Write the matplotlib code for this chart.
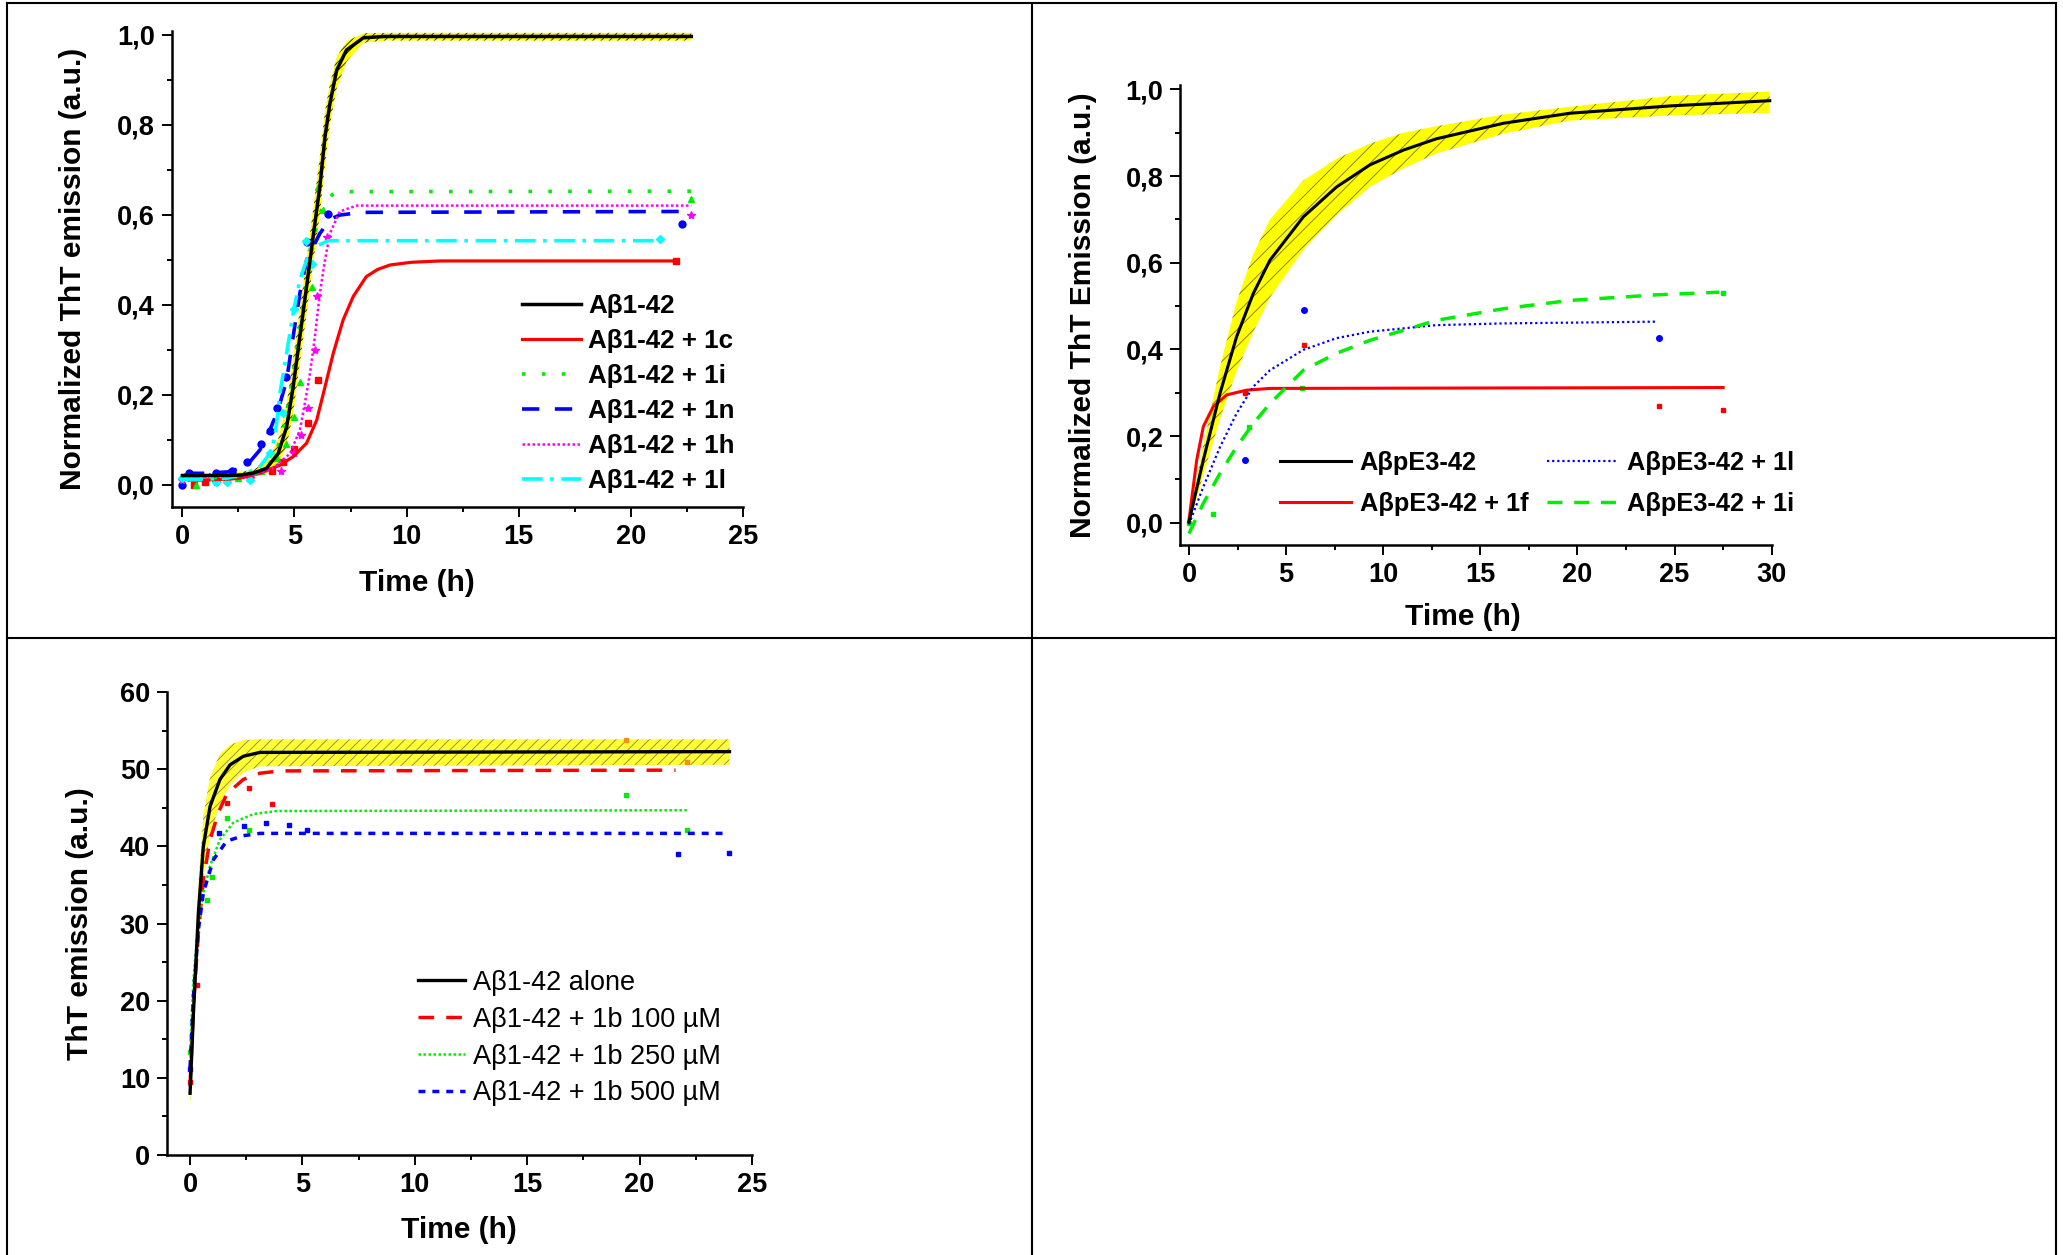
import matplotlib
matplotlib.use("Agg")
import matplotlib.pyplot as plt
from matplotlib.lines import Line2D
from matplotlib.ticker import MultipleLocator, FuncFormatter

plt.rcParams['font.family'] = ['Liberation Sans', 'DejaVu Sans']
plt.rcParams['hatch.linewidth'] = 0.65

# ---------- panel A: Abeta1-42 + 1c/1i/1n/1h/1l ----------
a_x_ctrl = [0, 1, 2, 2.6, 3.2, 3.75, 4.27, 4.65, 4.94, 5.24, 5.54, 5.83, 6.13, 6.36, 6.58, 6.88, 7.32, 8.07, 9, 12, 22.7]
a_y_ctrl = [0.02, 0.02, 0.02, 0.021, 0.026, 0.036, 0.069, 0.128, 0.217, 0.329, 0.44, 0.551, 0.662, 0.773, 0.847, 0.921, 0.966, 0.993, 0.996, 0.996, 0.996]
a_up_ctrl = [0.025, 0.025, 0.026, 0.028, 0.034, 0.05, 0.10, 0.18, 0.28, 0.39, 0.50, 0.61, 0.73, 0.83, 0.89, 0.95, 0.985, 1.003, 1.004, 1.004, 1.004]
a_lo_ctrl = [0.015, 0.015, 0.015, 0.016, 0.019, 0.025, 0.045, 0.085, 0.16, 0.27, 0.38, 0.49, 0.60, 0.71, 0.80, 0.88, 0.94, 0.982, 0.987, 0.987, 0.987]

a_x_1c = [0.3, 1, 2, 2.56, 3.46, 4.35, 4.94, 5.54, 5.99, 6.36, 6.73, 7.17, 7.62, 8.2, 8.7, 9.26, 10.2, 11.5, 22]
a_y_1c = [0.01, 0.01, 0.012, 0.014, 0.025, 0.043, 0.062, 0.092, 0.143, 0.217, 0.292, 0.366, 0.418, 0.462, 0.478, 0.488, 0.494, 0.497, 0.497]
a_x_1i = [0.5, 2, 3, 3.6, 4.1, 4.5, 4.8, 5.1, 5.4, 5.7, 6.0, 6.3, 6.7, 7.3, 22.7]
a_y_1i = [0.015, 0.016, 0.02, 0.03, 0.06, 0.12, 0.2, 0.3, 0.4, 0.5, 0.58, 0.625, 0.645, 0.651, 0.652]
a_x_1n = [0.2, 1, 2, 2.5, 3.0, 3.46, 3.9, 4.27, 4.65, 4.94, 5.24, 5.54, 6.13, 6.6, 7.02, 8, 22.5]
a_y_1n = [0.025, 0.025, 0.028, 0.035, 0.05, 0.077, 0.121, 0.166, 0.232, 0.329, 0.425, 0.499, 0.558, 0.59, 0.599, 0.605, 0.607]
a_x_1h = [0, 1, 2, 3.15, 4.05, 4.8, 5.24, 5.46, 5.69, 5.91, 6.13, 6.36, 6.58, 7.02, 7.77, 22.7]
a_y_1h = [0.018, 0.018, 0.018, 0.021, 0.036, 0.069, 0.121, 0.18, 0.247, 0.329, 0.425, 0.499, 0.558, 0.607, 0.62, 0.62]
a_x_1l = [0, 1, 2, 2.86, 3.46, 3.9, 4.13, 4.35, 4.65, 4.94, 5.24, 5.54, 5.69, 6.5, 21.2]
a_y_1l = [0.012, 0.012, 0.014, 0.025, 0.04, 0.069, 0.106, 0.203, 0.292, 0.381, 0.455, 0.499, 0.523, 0.542, 0.542]

a_px_1c = [0.5, 1.0, 2.0, 3.0, 4.0, 4.5, 5.0, 5.6, 6.05, 22.0]
a_py_1c = [0.0, 0.005, 0.01, 0.015, 0.03, 0.05, 0.08, 0.136, 0.232, 0.497]
a_px_1i = [0.6, 1.5, 2.5, 3.5, 4.2, 4.6, 5.0, 5.24, 5.76, 6.05, 6.25, 22.7]
a_py_1i = [0.0, 0.01, 0.015, 0.03, 0.06, 0.09, 0.15, 0.228, 0.44, 0.662, 0.61, 0.635]
a_px_1n = [0.0, 0.3, 1.5, 2.2, 2.9, 3.5, 3.9, 4.2, 4.6, 5.55, 6.5, 22.3]
a_py_1n = [0.0, 0.025, 0.025, 0.03, 0.05, 0.09, 0.12, 0.17, 0.24, 0.54, 0.601, 0.58]
a_px_1h = [0.0, 1.5, 3.0, 4.4, 5.0, 5.3, 5.6, 5.9, 6.0, 6.43, 22.7]
a_py_1h = [0.01, 0.005, 0.015, 0.03, 0.07, 0.11, 0.17, 0.3, 0.42, 0.551, 0.6]
a_px_1l = [0.0, 1.5, 2.0, 3.0, 3.9, 4.5, 5.0, 5.5, 5.8, 21.3]
a_py_1l = [0.015, 0.005, 0.005, 0.01, 0.07, 0.16, 0.39, 0.542, 0.49, 0.545]

# ---------- panel B: AbetapE3-42 ----------
b_x_ctrl = [0, 0.74, 1.6, 2.45, 3.31, 4.17, 5.89, 7.6, 9.32, 11.04, 12.73, 16.2, 19.6, 24.8, 29.9]
b_y_ctrl = [0.002, 0.145, 0.299, 0.429, 0.529, 0.606, 0.706, 0.775, 0.826, 0.860, 0.886, 0.922, 0.945, 0.962, 0.974]
b_up_ctrl = [0.01, 0.18, 0.36, 0.51, 0.62, 0.70, 0.79, 0.84, 0.875, 0.90, 0.915, 0.942, 0.960, 0.985, 0.995]
b_lo_ctrl = [-0.005, 0.11, 0.24, 0.35, 0.44, 0.52, 0.63, 0.71, 0.775, 0.818, 0.852, 0.898, 0.928, 0.94, 0.946]
b_x_1f = [0, 0.4, 0.74, 1.25, 1.94, 2.97, 4.17, 27.5]
b_y_1f = [0.006, 0.145, 0.222, 0.268, 0.295, 0.306, 0.310, 0.312]
b_x_1l = [0, 0.74, 1.6, 2.45, 3.31, 4.17, 5.89, 7.6, 9.32, 12.73, 16.2, 24.0]
b_y_1l = [-0.004, 0.083, 0.175, 0.252, 0.314, 0.352, 0.399, 0.426, 0.441, 0.456, 0.460, 0.464]
b_x_1i = [0, 0.74, 1.6, 2.45, 3.31, 4.17, 5.89, 7.6, 9.32, 11.04, 12.73, 16.2, 19.6, 24.1, 27.3]
b_y_1i = [-0.025, 0.045, 0.114, 0.175, 0.229, 0.275, 0.352, 0.391, 0.421, 0.444, 0.467, 0.494, 0.513, 0.526, 0.532]
b_px_1f = [2.9, 5.92, 24.2, 27.5]
b_py_1f = [0.30, 0.41, 0.27, 0.26]
b_px_1l = [2.9, 5.92, 24.2]
b_py_1l = [0.145, 0.491, 0.427]
b_px_1i = [0.0, 1.25, 3.1, 5.8, 27.5]
b_py_1i = [0.0, 0.019, 0.222, 0.312, 0.53]

# ---------- panel C: Abeta1-42 + 1b ----------
c_x_ctrl = [0, 0.15, 0.37, 0.59, 0.89, 1.33, 1.78, 2.37, 3.11, 24]
c_y_ctrl = [8.0, 18.4, 31.4, 40.0, 45.2, 48.7, 50.6, 51.7, 52.2, 52.3]
c_up_ctrl = [8.5, 21, 35, 44, 49, 52, 53.2, 53.8, 53.9, 53.9]
c_lo_ctrl = [6.0, 16, 28, 36, 41.5, 45.5, 48.0, 49.6, 50.4, 50.6]
c_x_100 = [0, 0.15, 0.37, 0.59, 0.89, 1.26, 1.63, 2.37, 3.11, 4.0, 21.6]
c_y_100 = [9.0, 19.3, 28.8, 35.7, 40.9, 44.4, 46.8, 48.7, 49.5, 49.8, 49.9]
c_x_250 = [0, 0.15, 0.37, 0.59, 0.89, 1.33, 1.93, 2.81, 3.85, 22.1]
c_y_250 = [13.4, 22.7, 30.1, 34.0, 37.5, 40.9, 43.1, 44.2, 44.6, 44.7]
c_x_500 = [0, 0.15, 0.37, 0.59, 1.04, 1.63, 2.37, 3.11, 24.0]
c_y_500 = [11.4, 20.6, 29.2, 34.0, 38.3, 40.7, 41.4, 41.7, 41.7]
c_px_100 = [0.0, 0.3, 1.63, 2.64, 3.63]
c_py_100 = [9.5, 22.0, 45.7, 47.6, 45.5]
c_px_250 = [0.0, 0.74, 0.96, 1.63, 2.64, 19.4, 22.1]
c_py_250 = [13.3, 33.0, 36.0, 43.7, 42.1, 46.7, 42.1]
c_px_500 = [0.0, 1.3, 2.4, 3.38, 4.4, 5.2, 21.7, 24.0]
c_py_500 = [11.2, 41.7, 42.6, 43.1, 42.8, 42.2, 39.0, 39.1]
c_px_mix = [19.4, 22.1]
c_py_mix = [53.8, 50.9]

fig = plt.figure(figsize=(20.63, 12.55), dpi=100)

comma = FuncFormatter(lambda v, p: f"{v:.1f}".replace('.', ','))


def style_axes(ax, xmaj, xmin, ymaj, ymin):
    for s in ['top', 'right']:
        ax.spines[s].set_visible(False)
    for s in ['left', 'bottom']:
        ax.spines[s].set_linewidth(1.8)
    ax.xaxis.set_major_locator(MultipleLocator(xmaj))
    ax.xaxis.set_minor_locator(MultipleLocator(xmin))
    ax.yaxis.set_major_locator(MultipleLocator(ymaj))
    ax.yaxis.set_minor_locator(MultipleLocator(ymin))
    ax.tick_params(which='major', direction='out', length=7, width=1.4, labelsize=19.5, pad=5)
    ax.tick_params(which='minor', direction='out', length=3.6, width=1.4)
    for lab in ax.get_xticklabels() + ax.get_yticklabels():
        lab.set_fontweight('bold')


# --- top left ---
ax1 = fig.add_axes([0.0832, 0.596, 0.2769, 0.3796])
ax1.fill_between(a_x_ctrl, a_lo_ctrl, a_up_ctrl, facecolor='#ffff00', edgecolor='#222200',
                 hatch='////', linewidth=0, zorder=1)
ax1.plot(a_x_ctrl, a_y_ctrl, color='black', lw=2.5, label='Aβ1-42', zorder=5)
ax1.plot(a_x_1c, a_y_1c, color='#ff0000', lw=2.3, label='Aβ1-42 + 1c', zorder=4)
ax1.plot(a_x_1i, a_y_1i, color='#00ee00', lw=2.6, ls=(0, (1, 4.5)), label='Aβ1-42 + 1i', zorder=4)
ax1.plot(a_x_1n, a_y_1n, color='#0000ff', lw=2.6, ls=(0, (4.8, 4.3)), label='Aβ1-42 + 1n', zorder=4)
ax1.plot(a_x_1h, a_y_1h, color='#ff00ff', lw=1.8, ls=(0, (1, 1)), label='Aβ1-42 + 1h', zorder=4)
ax1.plot(a_x_1l, a_y_1l, color='#00ffff', lw=2.6, ls=(0, (5.7, 2.1, 1, 2.1)), label='Aβ1-42 + 1l', zorder=4)
ax1.plot(a_px_1c, a_py_1c, 's', color='#ff0000', ms=4.5, zorder=3)
ax1.plot(a_px_1i, a_py_1i, '^', color='#00ee00', ms=5, zorder=3)
ax1.plot(a_px_1n, a_py_1n, 'o', color='#0000ff', ms=5, zorder=3)
ax1.plot(a_px_1h, a_py_1h, '*', color='#ff00ff', ms=6, zorder=3)
ax1.plot(a_px_1l, a_py_1l, 'D', color='#00ffff', ms=4.5, zorder=3)
ax1.set_xlim(-0.48, 25)
ax1.set_ylim(-0.05, 1.009)
style_axes(ax1, 5, 2.5, 0.2, 0.1)
ax1.yaxis.set_major_formatter(comma)
for lab in ax1.get_yticklabels():
    lab.set_fontweight('bold')
ax1.set_xlabel('Time (h)', fontsize=21.5, fontweight='bold')
ax1.set_ylabel('Normalized ThT emission (a.u.)', fontsize=21.5, fontweight='bold')
ax1.xaxis.set_label_coords(0.43, -0.13)
ax1.yaxis.set_label_coords(-0.148, 0.5)
ax1.legend(loc='upper left', bbox_to_anchor=(0.6126, 0.447), frameon=False, borderpad=0,
           borderaxespad=0, handlelength=2.3, handletextpad=0.26, labelspacing=0.42,
           prop={'size': 18.7, 'weight': 'bold'})

# --- top right ---
ax2 = fig.add_axes([0.5720, 0.5657, 0.2868, 0.3665])
ax2.fill_between(b_x_ctrl, b_lo_ctrl, b_up_ctrl, facecolor='#ffff00', edgecolor='#7a7a30',
                 hatch='//', linewidth=0, zorder=1)
l_ctrl, = ax2.plot(b_x_ctrl, b_y_ctrl, color='black', lw=2.2, label='AβpE3-42', zorder=5)
l_1f, = ax2.plot(b_x_1f, b_y_1f, color='#ff0000', lw=2.2, label='AβpE3-42 + 1f', zorder=4)
l_1l, = ax2.plot(b_x_1l, b_y_1l, color='#0000ff', lw=1.6, ls=(0, (1, 1.3)), label='AβpE3-42 + 1l', zorder=4)
l_1i, = ax2.plot(b_x_1i, b_y_1i, color='#00ee00', lw=2.5, ls=(0, (4.3, 3.4)), label='AβpE3-42 + 1i', zorder=4)
ax2.plot(b_px_1f, b_py_1f, 's', color='#ff0000', ms=3.5, zorder=3)
ax2.plot(b_px_1l, b_py_1l, 'o', color='#0000ff', ms=4, zorder=3)
ax2.plot(b_px_1i, b_py_1i, 's', color='#00ee00', ms=3.5, zorder=3)
ax2.set_xlim(-0.46, 30)
ax2.set_ylim(-0.0515, 1.01)
style_axes(ax2, 5, 2.5, 0.2, 0.1)
ax2.yaxis.set_major_formatter(comma)
for lab in ax2.get_yticklabels():
    lab.set_fontweight('bold')
ax2.set_xlabel('Time (h)', fontsize=21.5, fontweight='bold')
ax2.set_ylabel('Normalized ThT Emission (a.u.)', fontsize=21.5, fontweight='bold')
ax2.xaxis.set_label_coords(0.478, -0.125)
ax2.yaxis.set_label_coords(-0.14, 0.5)
ax2.legend(handles=[l_ctrl, l_1f, l_1l, l_1i], ncol=2, loc='upper left',
           bbox_to_anchor=(0.169, 0.205), frameon=False, borderpad=0, borderaxespad=0,
           handlelength=2.8, handletextpad=0.33, labelspacing=0.68, columnspacing=0.75,
           prop={'size': 18.3, 'weight': 'bold'})

# --- bottom left ---
ax3 = fig.add_axes([0.0808, 0.0797, 0.2837, 0.3687])
ax3.fill_between(c_x_ctrl, c_lo_ctrl, c_up_ctrl, facecolor='#ffff33', edgecolor='#8c8c40',
                 hatch='///', linewidth=0, zorder=1)
ax3.plot(c_x_ctrl, c_y_ctrl, color='black', lw=2.4, label='Aβ1-42 alone', zorder=5)
ax3.plot(c_x_100, c_y_100, color='#ff0000', lw=2.5, ls=(0, (4.5, 3.5)), label='Aβ1-42 + 1b 100 µM', zorder=4)
ax3.plot(c_x_250, c_y_250, color='#00ee00', lw=1.8, ls=(0, (1, 1)), label='Aβ1-42 + 1b 250 µM', zorder=4)
ax3.plot(c_x_500, c_y_500, color='#0000ff', lw=2.5, ls=(0, (2, 2)), label='Aβ1-42 + 1b 500 µM', zorder=4)
ax3.plot(c_px_100, c_py_100, 's', color='#ff0000', ms=3.5, zorder=3)
ax3.plot(c_px_250, c_py_250, 's', color='#00ee00', ms=3.5, zorder=3)
ax3.plot(c_px_500, c_py_500, 's', color='#0000ff', ms=3.5, zorder=3)
ax3.plot(c_px_mix, c_py_mix, 's', color='#ff8c1a', ms=3.5, zorder=3)
ax3.set_xlim(-1.04, 25)
ax3.set_ylim(0, 60)
style_axes(ax3, 5, 2.5, 10, 5)
ax3.set_xlabel('Time (h)', fontsize=21.5, fontweight='bold')
ax3.set_ylabel('ThT emission (a.u.)', fontsize=21.5, fontweight='bold')
ax3.xaxis.set_label_coords(0.5, -0.132)
ax3.yaxis.set_label_coords(-0.125, 0.5)
ax3.legend(loc='upper left', bbox_to_anchor=(0.429, 0.40), frameon=False, borderpad=0,
           borderaxespad=0, handlelength=1.75, handletextpad=0.28, labelspacing=0.4,
           prop={'size': 19.5})

# table grid lines around the panels
grid_kw = dict(color='black', lw=1.5, transform=fig.transFigure)
W, H = 2063.0, 1255.0
fig.add_artist(Line2D([7.3 / W, 7.3 / W], [0, 1 - 3 / H], **grid_kw))
fig.add_artist(Line2D([2055.7 / W, 2055.7 / W], [0, 1 - 3 / H], **grid_kw))
fig.add_artist(Line2D([7.3 / W, 2055.7 / W], [1 - 3 / H, 1 - 3 / H], **grid_kw))
fig.add_artist(Line2D([1031.7 / W, 1031.7 / W], [0, 1 - 3 / H], **grid_kw))
fig.add_artist(Line2D([7.3 / W, 2055.7 / W], [1 - 637.7 / H, 1 - 637.7 / H], **grid_kw))

fig.savefig('out.png', dpi=100)
